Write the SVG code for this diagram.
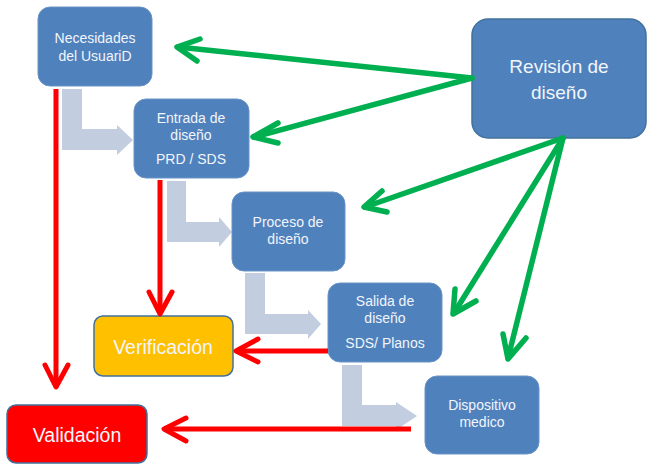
<svg xmlns="http://www.w3.org/2000/svg" width="648" height="464" viewBox="0 0 648 464">
<defs>
<style>
.node rect{fill:#4F81BD;stroke:#6b93c6;stroke-width:1}
.t{font-family:"Liberation Sans",Arial,sans-serif;fill:#f2f5fa;text-anchor:middle}
.s{font-size:14px}
.flow{fill:#C3CDE0}
.red{stroke:#FF0000;stroke-width:5;fill:none;stroke-linecap:butt}
.redh{stroke:#FF0000;stroke-width:5;fill:none;stroke-linecap:round;stroke-linejoin:round}
.grn{stroke:#00B050;stroke-width:5.5;fill:none;stroke-linecap:round;stroke-linejoin:round}
</style>
</defs>
<rect width="648" height="464" fill="#fff"/>
<g id="flows">
<path class="flow" d="M62,89 H82 V129 H117 V125 L133,140 L117,155 V150 H62 Z"/>
<path class="flow" d="M167,181 H186 V222 H219 V217 L232,232 L219,247 V242 H167 Z"/>
<path class="flow" d="M245,273 H265 V314 H308 V310 L321,324 L308,339 V334 H245 Z"/>
<path class="flow" d="M342,365 H362 V405 H396 V402 L417,416 L396,430 V426 H342 Z"/>
</g>
<g id="node-necesidades" class="node">
<rect x="38" y="7" width="114" height="79" rx="12"/>
<text class="t s" x="95" y="43">Necesidades</text>
<text class="t s" x="95" y="61">del UsuariD</text>
</g>
<g id="node-entrada" class="node">
<rect x="134" y="99" width="115" height="79" rx="12"/>
<text class="t s" x="191" y="123">Entrada de</text>
<text class="t s" x="191" y="140">diseño</text>
<text class="t s" x="191" y="164">PRD / SDS</text>
</g>
<g id="node-proceso" class="node">
<rect x="232" y="192" width="113" height="79" rx="12"/>
<text class="t s" x="288" y="227">Proceso de</text>
<text class="t s" x="288" y="244">diseño</text>
</g>
<g id="node-salida" class="node">
<rect x="328" y="283" width="114" height="79" rx="12"/>
<text class="t s" x="385" y="306">Salida de</text>
<text class="t s" x="385" y="323">diseño</text>
<text class="t s" x="385" y="348">SDS/ Planos</text>
</g>
<g id="node-dispositivo" class="node">
<rect x="425" y="376" width="114" height="78" rx="12"/>
<text class="t s" x="482" y="410">Dispositivo</text>
<text class="t s" x="482" y="427">medico</text>
</g>
<g id="node-revision">
<rect x="472" y="19" width="174" height="119" rx="16" fill="#4F81BD" stroke="#41719C" stroke-width="1.5"/>
<text class="t" x="559" y="73" font-size="19">Revisión de</text>
<text class="t" x="559" y="99" font-size="19">diseño</text>
</g>
<g id="node-verificacion">
<rect x="94" y="316" width="139" height="60" rx="9" fill="#FFC000" stroke="#41719C" stroke-width="1.5"/>
<text class="t" x="163" y="354" font-size="19.5" fill="#fff">Verificación</text>
</g>
<g id="node-validacion">
<rect x="7" y="405" width="140" height="58" rx="9" fill="#FF0000" stroke="#41719C" stroke-width="1.5"/>
<text class="t" x="77" y="442" font-size="19.5" fill="#fff">Validación</text>
</g>
<g id="connectors">
<line class="red" x1="56" y1="89" x2="56" y2="386"/>
<polyline class="redh" points="45,365 56,387 68,365"/>
<line class="red" x1="160" y1="180" x2="160" y2="313"/>
<polyline class="redh" points="149,292 160,314 172,292"/>
<line class="red" x1="328" y1="351" x2="237" y2="351"/>
<polyline class="redh" points="258,339 236,351 258,362"/>
<line class="red" x1="411" y1="429" x2="165" y2="429"/>
<polyline class="redh" points="186,418 164,429 186,441"/>
<line class="grn" x1="472" y1="78" x2="178" y2="47"/>
<polyline class="grn" points="200,39 177,47 197,61"/>
<line class="grn" x1="472" y1="78" x2="254" y2="137"/>
<polyline class="grn" points="278,123 253,137 278,143"/>
<line class="grn" x1="563" y1="138" x2="365" y2="207"/>
<polyline class="grn" points="382,191 364,207 387,212"/>
<line class="grn" x1="563" y1="138" x2="454" y2="313"/>
<polyline class="grn" points="455,289 453,314 476,301"/>
<line class="grn" x1="563" y1="138" x2="508" y2="358"/>
<polyline class="grn" points="503,334 508,359 526,338"/>
</g>
</svg>
